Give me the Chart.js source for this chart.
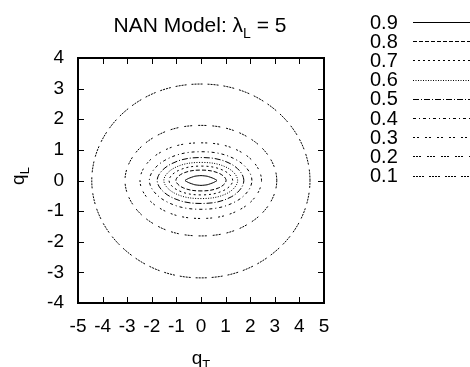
<!DOCTYPE html>
<html>
<head>
<meta charset="utf-8">
<script src="https://cdn.jsdelivr.net/npm/chart.js@4/dist/chart.umd.min.js"></script>
<style>
  html, body { margin: 0; padding: 0; background: #fff; }
  canvas { display: block; }
</style>
</head>
<body>
<canvas id="contourChart" width="470" height="367"></canvas>
<script>
// ==========================================================================
// DATA
// ==========================================================================
const levels = ['0.9', '0.8', '0.7', '0.6', '0.5', '0.4', '0.3', '0.2', '0.1'];
const xTickValues = [-5, -4, -3, -2, -1, 0, 1, 2, 3, 4, 5];
const yTickValues = [-4, -3, -2, -1, 0, 1, 2, 3, 4];

// one closed contour per level, as [qT, qL] points going round the curve
const ring09 = [[-0.65, 0], [-0.5, 0.07], [-0.25, 0.14], [0, 0.16], [0.25, 0.14], [0.5, 0.07],
                [0.65, 0], [0.5, -0.07], [0.25, -0.14], [0, -0.16], [-0.25, -0.14], [-0.5, -0.07]];
const ring08 = [[1.02, 0], [0.72, 0.24], [0, 0.34], [-0.72, 0.24], [-1.02, 0], [-0.72, -0.24], [0, -0.34], [0.72, -0.24]];
const ring07 = [[1.29, 0], [0.91, 0.33], [0, 0.47], [-0.91, 0.33], [-1.3, 0], [-0.91, -0.33], [0, -0.47], [0.91, -0.33]];
const ring06 = [[1.49, 0], [1.06, 0.42], [0, 0.59], [-1.06, 0.42], [-1.51, 0], [-1.06, -0.42], [0, -0.59], [1.06, -0.42]];
const ring05 = [[1.74, 0], [1.24, 0.53], [0, 0.75], [-1.24, 0.53], [-1.78, 0], [-1.24, -0.53], [0, -0.75], [1.24, -0.53]];
const ring04 = [[2.07, 0], [1.47, 0.66], [0, 0.94], [-1.47, 0.66], [-2.1, 0], [-1.47, -0.66], [0, -0.94], [1.47, -0.66]];
const ring03 = [[2.46, 0], [1.75, 0.87], [0, 1.23], [-1.75, 0.87], [-2.48, 0], [-1.75, -0.87], [0, -1.24], [1.75, -0.87]];
const ring02 = [[3.08, 0], [2.18, 1.27], [0, 1.8], [-2.18, 1.27], [-3.09, 0], [-2.18, -1.28], [0, -1.81], [2.18, -1.28]];
const ring01 = [[4.43, 0], [3.13, 2.23], [0, 3.15], [-3.13, 2.23], [-4.44, 0], [-3.13, -2.24], [0, -3.18], [3.13, -2.24]];

const rings = [ring09, ring08, ring07, ring06, ring05, ring04, ring03, ring02, ring01];

// gnuplot style dash types, one per level
const dashes = [[], [4, 2], [2, 3], [1, 1.5], [6, 2, 1, 2], [3, 3, 1, 3], [2, 2, 2, 6], [2, 1, 2, 1, 2, 6], [2, 1, 2, 1, 2, 1, 2, 5]];
const tensions = [0.15, 0.38, 0.38, 0.38, 0.38, 0.38, 0.38, 0.38, 0.38];

const FONT = "'Liberation Sans', Arial, Helvetica, sans-serif";
const FONT_SIZE = 19;
const TITLE_SIZE = 21;
const KEY_SIZE = 20;
const TICK_LEN = 6;

// ==========================================================================
// DATASETS
// ==========================================================================
// Each ring is padded with its last point in front and first two at the end,
// so the spline is smooth all the way round; the two padding segments are hidden.
function ringDataset(ring, i) {
    const n = ring.length;
    const pts = [ring[n - 1], ...ring, ring[0], ring[1]].map(p => ({ x: p[0], y: p[1] }));
    return {
        label: levels[i],
        data: pts,
        showLine: true,
        borderColor: '#000',
        borderWidth: 1,
        borderDash: dashes[i],
        tension: tensions[i],
        pointRadius: 0,
        segment: {
            borderColor: ctx => (ctx.p0DataIndex === 0 || ctx.p0DataIndex === n + 1) ? 'rgba(0,0,0,0)' : undefined
        }
    };
}

// draws "base" + subscript + "tail" centred on x
function drawSubText(ctx, base, sub, tail, x, y, size) {
    const subSize = Math.round(size * 0.68);
    ctx.font = `${size}px ${FONT}`;
    const w1 = ctx.measureText(base).width;
    const w3 = ctx.measureText(tail).width;
    ctx.font = `${subSize}px ${FONT}`;
    const w2 = ctx.measureText(sub).width;
    let cx = x - (w1 + w2 + w3) / 2;
    ctx.textAlign = 'left';
    ctx.textBaseline = 'alphabetic';
    ctx.font = `${size}px ${FONT}`;
    ctx.fillText(base, cx, y);
    cx += w1;
    ctx.font = `${subSize}px ${FONT}`;
    ctx.fillText(sub, cx, y + size * 0.27);
    cx += w2;
    ctx.font = `${size}px ${FONT}`;
    ctx.fillText(tail, cx, y);
}

// frame, inward ticks on four sides, title, axis titles and the key
const framePlugin = {
    id: 'frameAndKey',
    afterDraw(chart) {
        const { ctx, chartArea: a, scales } = chart;
        ctx.save();
        ctx.strokeStyle = '#000';
        ctx.fillStyle = '#000';
        ctx.setLineDash([]);

        ctx.lineWidth = 1;
        ctx.beginPath();
        scales.x.ticks.forEach(t => {
            const px = Math.round(scales.x.getPixelForValue(t.value)) + 0.5;
            ctx.moveTo(px, a.bottom); ctx.lineTo(px, a.bottom - TICK_LEN);
            ctx.moveTo(px, a.top); ctx.lineTo(px, a.top + TICK_LEN);
        });
        scales.y.ticks.forEach(t => {
            const py = Math.round(scales.y.getPixelForValue(t.value)) + 0.5;
            ctx.moveTo(a.left, py); ctx.lineTo(a.left + TICK_LEN, py);
            ctx.moveTo(a.right, py); ctx.lineTo(a.right - TICK_LEN, py);
        });
        ctx.stroke();

        ctx.lineWidth = 2;
        ctx.strokeRect(a.left, a.top, a.right - a.left, a.bottom - a.top);

        // titles
        drawSubText(ctx, 'NAN Model: \u03bb', 'L', ' = 5', 200, 32, TITLE_SIZE);
        drawSubText(ctx, 'q', 'T', '', 201, 364, FONT_SIZE);
        ctx.save();
        ctx.translate(24, 176);
        ctx.rotate(-Math.PI / 2);
        drawSubText(ctx, 'q', 'L', '', 0, 0, FONT_SIZE);
        ctx.restore();

        // key: label on the left, line sample on the right
        ctx.font = `${KEY_SIZE}px ${FONT}`;
        ctx.textAlign = 'left';
        ctx.textBaseline = 'middle';
        chart.data.datasets.forEach((ds, i) => {
            const y = 23 + i * 19.2;
            ctx.fillText(ds.label, 370, y);
            ctx.lineWidth = 1;
            ctx.setLineDash(ds.borderDash);
            ctx.beginPath();
            ctx.moveTo(413, Math.round(y) - 0.5);
            ctx.lineTo(470, Math.round(y) - 0.5);
            ctx.stroke();
        });
        ctx.restore();
    }
};

const tickFont = { size: FONT_SIZE, family: FONT };

new Chart(document.getElementById('contourChart'), {
    type: 'scatter',
    data: { datasets: rings.map(ringDataset) },
    options: {
        responsive: false,
        animation: false,
        layout: { padding: { left: 0, right: 146, top: 58, bottom: 0 } },
        plugins: {
            legend: { display: false },
            tooltip: { enabled: false },
            title: { display: false }
        },
        scales: {
            x: {
                type: 'linear',
                min: -5, max: 5,
                grid: { display: false, drawTicks: false },
                border: { display: false },
                ticks: { color: '#000', font: tickFont, padding: 12, maxRotation: 0, autoSkip: false },
                afterBuildTicks: s => { s.ticks = xTickValues.map(v => ({ value: v })); },
                afterFit: s => { s.height = 64; }
            },
            y: {
                type: 'linear',
                min: -4, max: 4,
                grid: { display: false, drawTicks: false },
                border: { display: false },
                ticks: { color: '#000', font: tickFont, padding: 14, autoSkip: false },
                afterBuildTicks: s => { s.ticks = yTickValues.map(v => ({ value: v })); },
                afterFit: s => { s.width = 78; }
            }
        }
    },
    plugins: [framePlugin]
});
</script>
</body>
</html>
